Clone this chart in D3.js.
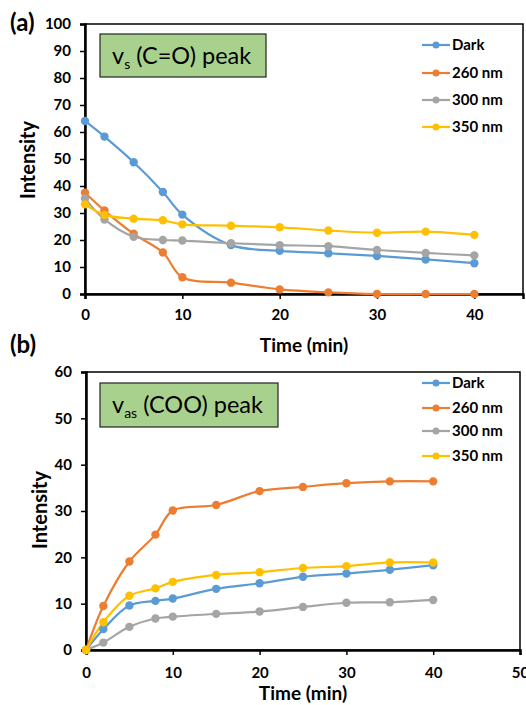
<!DOCTYPE html>
<html><head><meta charset="utf-8">
<script src="https://cdn.jsdelivr.net/npm/d3@7"></script>
<style>body{margin:0;background:#fff}svg{display:block}text{font-family:Lato,"Open Sans",sans-serif}</style>
</head><body><svg id="c" width="526" height="705"></svg>
<script>
const times = [0, 2, 5, 8, 10, 15, 20, 25, 30, 35, 40];
const seriesNames = ["Dark", "260 nm", "300 nm", "350 nm"];
const colors = ["#5b9bd5", "#ed7d31", "#a5a5a5", "#ffc000"];
// panel (a) vs(C=O)
const aDark = [64.1, 58.3, 48.8, 37.8, 29.4, 18.1, 16.0, 15.1, 14.1, 12.8, 11.4];
const a260  = [37.5, 30.9, 22.3, 15.4, 6.2, 4.2, 1.7, 0.6, 0, 0, 0];
const a300  = [35.4, 27.6, 21.2, 20.0, 19.8, 18.8, 18.1, 17.7, 16.3, 15.2, 14.3];
const a350  = [33.2, 29.3, 27.9, 27.3, 25.8, 25.3, 24.7, 23.5, 22.7, 23.1, 21.9];
// panel (b) vas(COO)
const bDark = [0, 4.5, 9.6, 10.6, 11.1, 13.2, 14.4, 15.8, 16.5, 17.3, 18.3];
const b260  = [0, 9.5, 19.1, 24.9, 30.1, 31.3, 34.3, 35.2, 36.0, 36.4, 36.4];
const b300  = [0, 1.6, 5.0, 6.8, 7.2, 7.8, 8.3, 9.3, 10.2, 10.3, 10.8];
const b350  = [0, 6.0, 11.7, 13.3, 14.7, 16.2, 16.8, 17.7, 18.1, 18.9, 18.9];
const aYTicks = [0,10,20,30,40,50,60,70,80,90,100];
const aXTicks = [0,10,20,30,40];
const bYTicks = [0,10,20,30,40,50,60];
const bXTicks = [0,10,20,30,40,50];

const svg = d3.select("#c");

function panel(cfg){
  const g = svg.append("g");
  const x = d3.scaleLinear().domain(cfg.xDom).range([cfg.left, cfg.right]);
  const y = d3.scaleLinear().domain(cfg.yDom).range([cfg.bottom, cfg.top]);
  g.append("rect").attr("x", cfg.left).attr("y", cfg.top)
    .attr("width", cfg.right-cfg.left).attr("height", cfg.bottom-cfg.top)
    .attr("fill","none").attr("stroke","#000").attr("stroke-width",1.5);
  const ya = g.append("g").attr("transform",`translate(${cfg.left},0)`)
    .call(d3.axisLeft(y).tickValues(cfg.yTicks).tickSize(5).tickPadding(9));
  const xa = g.append("g").attr("transform",`translate(0,${cfg.bottom})`)
    .call(d3.axisBottom(x).tickValues(cfg.xTicks).tickSize(5).tickPadding(cfg.xPad));
  [ya, xa].forEach(a=>{
    a.select(".domain").attr("stroke","#000").attr("stroke-width",2.5);
    a.selectAll(".tick line").attr("stroke","#000").attr("stroke-width",1.5);
    a.selectAll("text").attr("font-size",15).attr("font-weight","bold").attr("fill","#000")
      .style("font-family","Lato, sans-serif");
  });
  g.append("rect").attr("x",cfg.box[0]).attr("y",cfg.box[1]).attr("width",cfg.box[2]).attr("height",cfg.box[3])
    .attr("fill","#a9d18e").attr("stroke","#222").attr("stroke-width",1.2);
  const t = g.append("text").attr("x",cfg.box[0]+12).attr("y",cfg.box[1]+cfg.box[3]/2+8)
    .attr("font-size",23.5).attr("fill","#000");
  t.append("tspan").text("v");
  t.append("tspan").attr("font-size",14).attr("dy",5).text(cfg.sub);
  t.append("tspan").attr("dy",-5).text(cfg.label);
  const line = d3.line().x(d=>x(d[0])).y(d=>y(d[1])).curve(d3.curveCatmullRom.alpha(0.5));
  cfg.series.forEach((vals,i)=>{
    const pts = times.map((t,j)=>[t, vals[j]]);
    g.append("path").attr("d", line(pts)).attr("fill","none").attr("stroke",colors[i]).attr("stroke-width",2.2);
  });
  cfg.series.forEach((vals,i)=>{
    g.selectAll(null).data(times.map((t,j)=>[t, vals[j]])).enter().append("circle")
      .attr("cx",d=>x(d[0])).attr("cy",d=>y(d[1])).attr("r",4.2).attr("fill",colors[i]);
  });
  seriesNames.forEach((n,i)=>{
    const yy = cfg.legY[i];
    g.append("line").attr("x1",422).attr("x2",450).attr("y1",yy).attr("y2",yy)
      .attr("stroke",colors[i]).attr("stroke-width",2.2);
    g.append("circle").attr("cx",436).attr("cy",yy).attr("r",3.5).attr("fill",colors[i]);
    g.append("text").attr("x",452).attr("y",yy+5).attr("font-size",15).attr("font-weight","bold")
      .attr("fill","#000").text(n);
  });
  g.append("text").attr("x",(cfg.left+cfg.right)/2).attr("y",cfg.xTitleY).attr("text-anchor","middle")
    .attr("font-size",19).attr("font-weight","bold").text("Time (min)");
  g.append("text").attr("transform",`translate(${cfg.yTitleX},${cfg.yTitleY}) rotate(-90)`)
    .attr("text-anchor","middle").attr("font-size",20).attr("font-weight","bold").text("Intensity");
  g.append("text").attr("x",10).attr("y",cfg.tagY).attr("font-size",24).attr("font-weight","bold").text(cfg.tag);
}

panel({xDom:[0,45], yDom:[0,100], left:85, right:523, top:24, bottom:294, xPad:10,
  yTicks:aYTicks, xTicks:aXTicks, series:[aDark,a260,a300,a350],
  box:[100,34,166,43], sub:"s", label:" (C=O) peak", legY:[45,73,100,127],
  xTitleY:352, yTitleX:35, yTitleY:160, tag:"(a)", tagY:31});
panel({xDom:[0,50], yDom:[0,60], left:86, right:520, top:372, bottom:650, xPad:12,
  yTicks:bYTicks, xTicks:bXTicks, series:[bDark,b260,b300,b350],
  box:[100,383,178,44], sub:"as", label:" (COO) peak", legY:[383,408,431,456],
  xTitleY:700, yTitleX:47, yTitleY:510, tag:"(b)", tagY:353});
</script></body></html>
